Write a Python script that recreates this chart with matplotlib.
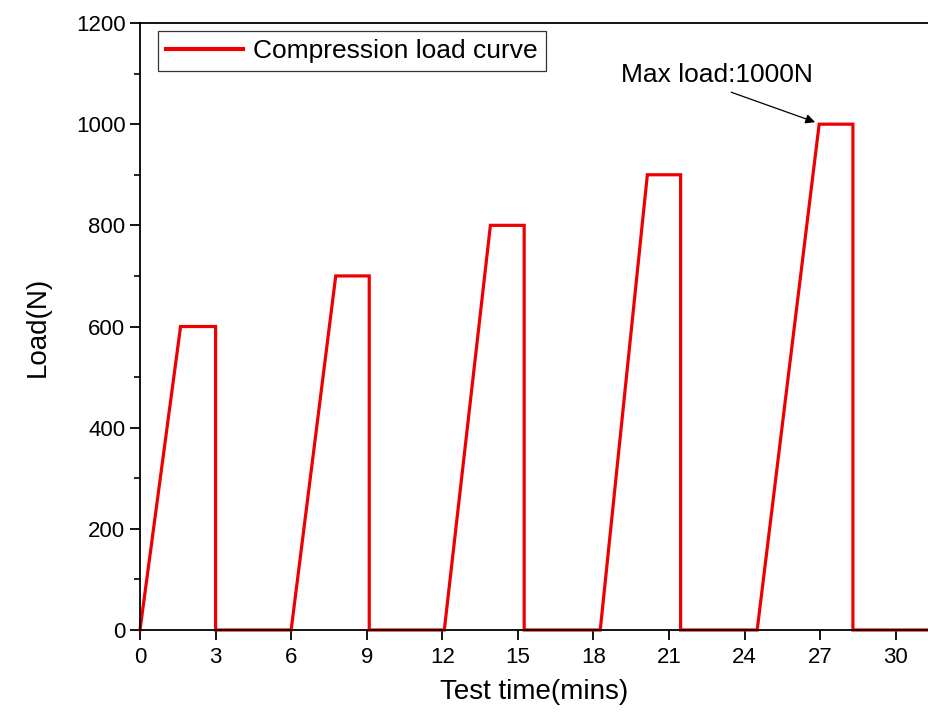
import matplotlib.pyplot as plt
from matplotlib.ticker import MultipleLocator

plt.rcParams['font.family'] = ['Liberation Sans', 'DejaVu Sans']

# Load cycle corner points
time = [0, 1.61, 3.0, 3.0, 6.0, 7.77, 9.1, 9.1, 12.08, 13.91, 15.25, 15.25,
        18.27, 20.14, 21.46, 21.46, 24.5, 26.96, 28.3, 28.3, 31.32]
load = [0, 600, 600, 0, 0, 700, 700, 0, 0, 800, 800, 0,
        0, 900, 900, 0, 0, 1000, 1000, 0, 0]
x_ticks = [0, 3, 6, 9, 12, 15, 18, 21, 24, 27, 30]
y_ticks = [0, 200, 400, 600, 800, 1000, 1200]

fig = plt.figure(figsize=(9.29, 7.15), dpi=100)
ax = fig.add_axes([0.1507, 0.1189, 0.8493, 0.8489])

ax.plot(time, load, color='#ee0000', lw=2.3, label='Compression load curve',
        solid_joinstyle='miter', clip_on=False)

ax.set_xlim(0, 31.32)
ax.set_ylim(0, 1200)
ax.set_xticks(x_ticks)
ax.set_yticks(y_ticks)
ax.yaxis.set_minor_locator(MultipleLocator(100))
ax.tick_params(axis='both', which='major', direction='out', length=7, width=1.3,
               labelsize=16)
ax.tick_params(axis='y', which='minor', direction='out', length=4, width=1.2)
ax.tick_params(axis='x', pad=5)
for s in ['left', 'bottom', 'top']:
    ax.spines[s].set_linewidth(1.3)
ax.spines['right'].set_visible(False)

ax.set_xlabel('Test time(mins)', fontsize=20, labelpad=8)
ax.set_ylabel('Load(N)', fontsize=20, labelpad=18)

ax.annotate('Max load:1000N', xy=(26.8, 1004), xytext=(22.9, 1097),
            fontsize=19, ha='center', va='center',
            arrowprops=dict(arrowstyle='-|>', color='black', lw=0.9,
                            relpos=(0.5, 0), shrinkA=5, shrinkB=0,
                            mutation_scale=14))

leg = ax.legend(loc='upper left', fontsize=19, frameon=True, fancybox=False,
                edgecolor='black', handlelength=2.9, handletextpad=0.4,
                borderpad=0.3, borderaxespad=0,
                bbox_to_anchor=(0.023, 0.987))
leg.get_frame().set_linewidth(0.9)
leg.get_lines()[0].set_linewidth(3)

fig.savefig('out.png', dpi=100)
